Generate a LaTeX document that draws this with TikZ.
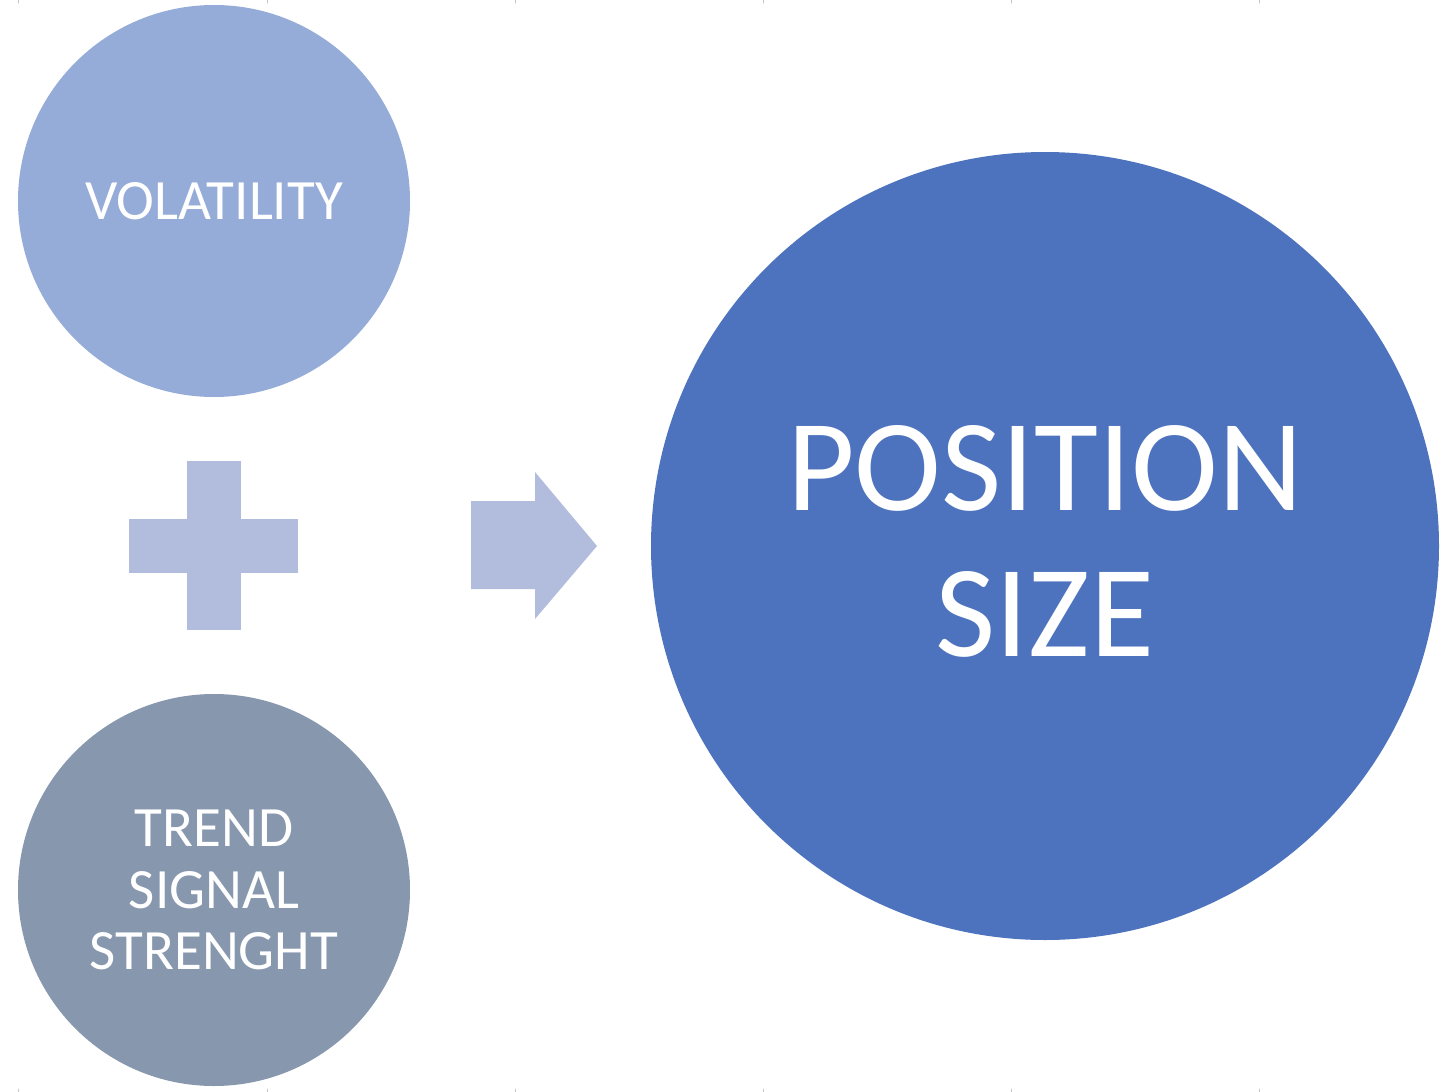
\documentclass[tikz,border=0pt]{standalone}
\usepackage{fontspec}
\setmainfont{Carlito}
\definecolor{volblue}{HTML}{95ABD8}
\definecolor{trendgray}{HTML}{8797AE}
\definecolor{posblue}{HTML}{4E73BE}
\definecolor{signblue}{HTML}{B2BDDD}
\tikzset{
  bubble/.style={circle,inner sep=0pt,text=white,align=center},
  smalltext/.style={font=\fontsize{28.5}{30.8}\selectfont},
  bigtext/.style={font=\fontsize{65.5}{73}\selectfont},
}
\begin{document}
\begin{tikzpicture}[x=0.5pt,y=-0.5pt,line cap=round,line join=round]
				\useasboundingbox (0,0) rectangle (1446,1092);
				% edge ticks
				\foreach \x in {18,267,515,763,1011,1259}
				{\draw[gray!45,line width=0.5pt] (\x,0)--(\x,3);
				\draw[gray!45,line width=0.5pt] (\x,1089)--(\x,1092);}
				\node[bubble,smalltext,fill=volblue,minimum size=196pt] (vol) at (214,201) {VOLATILITY};
				\node[bubble,smalltext,fill=trendgray,minimum size=196pt] (trend) at (214,890) {TREND\\SIGNAL\\STRENGHT};
				\node[bubble,bigtext,fill=posblue,minimum size=394pt] (pos) at (1045,546) {};
				\node[text=white,align=center,bigtext] (postext) at (1045,541) {POSITION\\SIZE};
				% plus sign
				\fill[signblue] (187,461) rectangle (241,630);
				\fill[signblue] (129,519) rectangle (298,573);
				% arrow
				\fill[signblue] (471,501)--(535,501)--(535,472)--(597,546)--(535,619)--(535,589)--(471,589)--cycle;
			\end{tikzpicture}
\end{document}
